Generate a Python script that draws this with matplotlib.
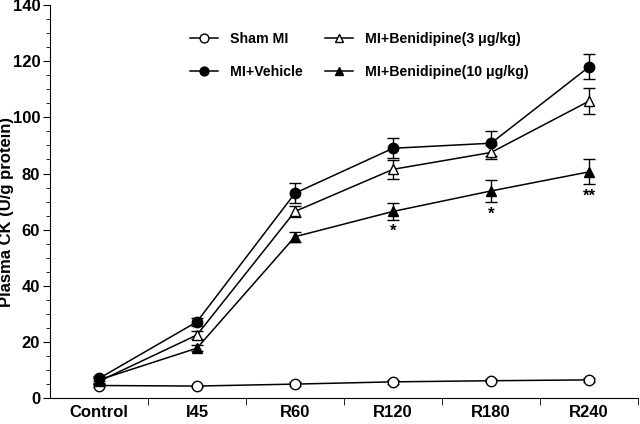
import matplotlib
matplotlib.use("Agg")
import matplotlib.pyplot as plt
from matplotlib.ticker import MultipleLocator, FixedLocator

plt.rcParams['font.family'] = ['Liberation Sans', 'DejaVu Sans']
plt.rcParams['font.weight'] = 'bold'

categories = ["Control", "I45", "R60", "R120", "R180", "R240"]
sham = [4.5, 4.3, 5.0, 5.8, 6.2, 6.5]
sham_err = [0.5, 0.4, 0.6, 0.7, 0.6, 0.6]
vehicle = [7.0, 27.2, 73.0, 89.0, 90.8, 118.0]
vehicle_err = [1.0, 1.5, 3.5, 3.5, 4.5, 4.5]
beni3 = [6.0, 22.5, 66.5, 81.5, 87.5, 105.8]
beni3_err = [1.0, 1.5, 2.0, 3.3, 2.5, 4.5]
beni10 = [6.5, 17.8, 57.5, 66.5, 73.8, 80.6]
beni10_err = [1.0, 1.0, 1.8, 3.0, 4.0, 4.5]
stars = ["", "", "", "*", "*", "**"]

fig = plt.figure(figsize=(6.4, 4.24), dpi=100)
ax = fig.add_axes([0.078, 0.061, 0.919, 0.927])
x = list(range(len(categories)))

kw = dict(color='black', lw=1.1, capsize=4, elinewidth=1.0, capthick=1.0, markersize=7.5)
h1 = ax.errorbar(x, sham, yerr=sham_err, marker='o', mfc='white', mec='black', **kw)
h2 = ax.errorbar(x, vehicle, yerr=vehicle_err, marker='o', mfc='black', mec='black', **kw)
h3 = ax.errorbar(x, beni3, yerr=beni3_err, marker='^', mfc='white', mec='black', **kw)
h4 = ax.errorbar(x, beni10, yerr=beni10_err, marker='^', mfc='black', mec='black', **kw)

for xi, s, v, e in zip(x, stars, beni10, beni10_err):
    if s:
        ax.text(xi, v - e - 1.5, s, ha='center', va='top', fontsize=12, fontweight='bold')

ax.set_xlim(-0.5, 5.5)
ax.set_ylim(0, 140)
ax.set_xticks(x)
ax.set_xticklabels(categories, fontsize=12, fontweight='bold')
ax.xaxis.set_minor_locator(FixedLocator([i + 0.5 for i in range(6)]))
ax.tick_params(axis='x', which='major', length=0, pad=5)
ax.tick_params(axis='x', which='minor', length=5, direction='out')
ax.yaxis.set_major_locator(MultipleLocator(20))
ax.yaxis.set_minor_locator(MultipleLocator(5))
ax.tick_params(axis='y', which='major', length=5, labelsize=12, direction='out', pad=2)
ax.tick_params(axis='y', which='minor', length=3, direction='out')
for lab in ax.get_yticklabels():
    lab.set_fontweight('bold')
ax.spines['top'].set_visible(False)
ax.spines['right'].set_visible(False)
fig.text(7/640, 1 - 212/424, 'Plasma CK (U/g protein)', rotation=90, ha='center', va='center',
         fontsize=12, fontweight='bold')

handles = [h1[0], h2[0], h3[0], h4[0]]
labels = ['Sham MI', 'MI+Vehicle', 'MI+Benidipine(3 \u03bcg/kg)', 'MI+Benidipine(10 \u03bcg/kg)']
ax.legend(handles, labels, ncol=2, frameon=False,
          loc='upper left', bbox_to_anchor=(190/640, 1 - 32/424), bbox_transform=fig.transFigure,
          borderpad=0, borderaxespad=0, handlelength=2.0, handletextpad=0.8,
          columnspacing=1.6, labelspacing=1.35, markerscale=0.85,
          prop={'weight': 'bold', 'size': 10.2})
fig.savefig('out.png', dpi=100)
